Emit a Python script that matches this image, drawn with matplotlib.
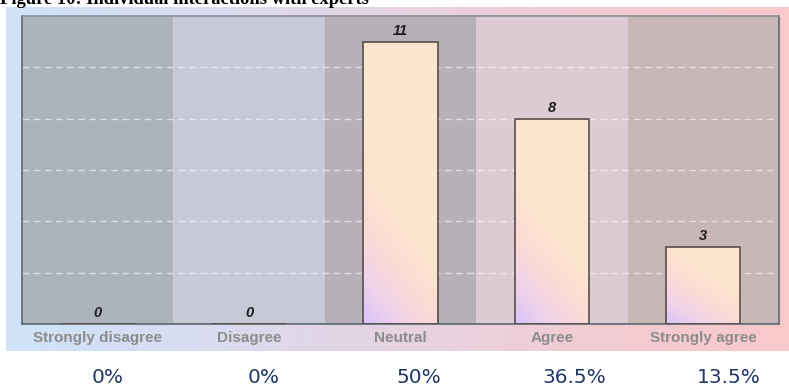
import numpy as np
import matplotlib
matplotlib.use('Agg')
import matplotlib.pyplot as plt
from matplotlib.colors import LinearSegmentedColormap

categories = ['Strongly disagree', 'Disagree', 'Neutral', 'Agree', 'Strongly agree']
counts = [0, 0, 11, 8, 3]
percent_labels = ['0%', '0%', '50%', '36.5%', '13.5%']
title = 'Figure 10: Individual interactions with experts'

band_colors = ['#abb3bd', '#c7c9d7', '#b6b1b9', '#dccbd2', '#c9b6b7']

fig = plt.figure(figsize=(7.89, 3.92), dpi=100)
fig.patch.set_facecolor('white')

# soft blue -> pink panel behind the chart
bg = fig.add_axes([0.0076, 0.1046, 0.9924, 0.8776])
bg_cmap = LinearSegmentedColormap.from_list('panel', ['#cfe3f8', '#d9dcf0', '#e6d3e2', '#f2ccd3', '#f9c8cb'])
bg.imshow(np.linspace(0, 1, 256).reshape(1, -1), cmap=bg_cmap, aspect='auto', extent=[0, 1, 0, 1])
bg.set_axis_off()

ax = fig.add_axes([0.0279, 0.1735, 0.9594, 0.7855])
ax.patch.set_alpha(0)
x = np.arange(len(categories))

# column shading, one band per category
for i, col in zip(x, band_colors):
    ax.axvspan(i - 0.5, i + 0.5, color=col, lw=0, zorder=0)

for yv in range(2, 12, 2):
    ax.axhline(yv, color='white', lw=1.0, ls=(0, (5, 3)), alpha=0.55, zorder=1)

bar_cmap = LinearSegmentedColormap.from_list('bar', ['#d8c4fa', '#f1d3ea', '#fbdad4', '#fde4cf', '#fde6cf'])
gx, gy = np.meshgrid(np.linspace(0, 1, 64), np.linspace(0, 1, 64))

bars = ax.bar(x, counts, width=0.49, facecolor='none', edgecolor='#5a4c48', lw=1.2, zorder=3)
for b, c in zip(bars, counts):
    if c == 0:
        continue
    # shorter bars keep more of the lavender corner
    grad = np.clip(0.5 * gx + (0.5 + 1.0 * c / 12) * gy, 0, 1)
    im = ax.imshow(grad, cmap=bar_cmap, origin='lower', aspect='auto', zorder=2,
                   extent=[b.get_x(), b.get_x() + b.get_width(), 0, c])
    im.set_clip_path(b)
    ax.text(b.get_x() + b.get_width() / 2, c + 0.15, str(c), ha='center', va='bottom',
            fontsize=10.5, fontweight='bold', fontstyle='italic', color='#1e1e1e', family='Liberation Sans')

for xi, c in zip(x, counts):
    if c == 0:
        ax.text(xi, 0.15, '0', ha='center', va='bottom', fontsize=10.5, fontweight='bold',
                fontstyle='italic', color='#1e1e1e', family='Liberation Sans')

ax.set_xlim(-0.5, len(categories) - 0.5)
ax.set_ylim(0, 12)
ax.set_yticks([])
ax.set_xticks(x)
ax.set_xticklabels(categories, fontsize=11, fontweight='bold', color='#8c8c8c', family='Liberation Sans')
ax.tick_params(axis='x', length=0, pad=5)
for s in ax.spines.values():
    s.set_color('#5c6770')
    s.set_linewidth(1.2)
ax.spines['top'].set_color('#8a8f98')

# percentage row under the panel
for i, p in enumerate(percent_labels):
    fig.text((108 + 155.3 * i) / 789, 0.038, p, ha='center', va='center', fontsize=14.5,
             color='#1f3769', family='DejaVu Sans')

fig.text(0.0, 1 - 4 / 392, title, ha='left', va='baseline', fontsize=13.3, fontweight='bold',
         family='Liberation Serif', color='black')

fig.savefig('out.png', dpi=100)
